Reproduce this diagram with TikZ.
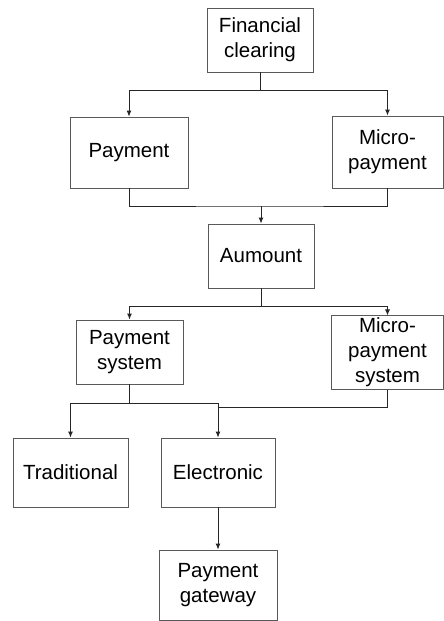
\documentclass[tikz,border=0pt]{standalone}
\usepackage{fontspec}
\setmainfont{Liberation Sans}
\usetikzlibrary{arrows,arrows.meta,shapes}
\tikzstyle{link} = [draw,black!85,line width=0.9pt]

\begin{document}
\begin{tikzpicture}
[x=1pt,y=-1pt,>={Latex[length=6pt,width=5pt]},
lineDecorateout/.style={->,link}, %
lineDecorate/.style={-,link},%
box/.style={shape=rectangle,draw=black!65,line width=0.9pt,fill=white,align=center,inner sep=2pt,font=\fontsize{20.5}{25}\selectfont}]

\useasboundingbox (0,0) rectangle (444,621);

%% nodes or vertices
\foreach \nodename/\x/\y/\w/\h/\txt in {
fin/260/40/106/64/{Financial\\clearing}, pay/129/152.5/118/71/{Payment}, micro/387.5/152/111/72/{Micro-\\payment},
amount/261/256/106/64/{Aumount}, paysys/129.5/352/107/64/{Payment\\system}, microsys/387.5/352.5/112/71/{Micro-\\payment\\system},
trad/70.5/472.5/115/69/{Traditional}, elec/218/472.5/114/69/{Electronic}, gate/218/585/118/70/{Payment\\gateway}}
{
\node (\nodename) at (\x,\y) [box,minimum width=\w pt,minimum height=\h pt] {\txt};
}

%% junctions
\coordinate (top) at (260,90);
\coordinate (mid) at (261,206);
\coordinate (sys) at (261,306);
\coordinate (low) at (129.5,403);
\coordinate (side) at (218,407);

%% edges or lines
\draw[lineDecorate] (fin.south) -- (top);
\draw[lineDecorateout] (top) -| (pay.north);
\draw[lineDecorateout] (top) -| (micro.north);

\draw[lineDecorate] (pay.south) |- (mid) -| (micro.south);
\draw[lineDecorateout] (mid) -- (amount.north);

\draw[lineDecorate] (amount.south) -- (sys);
\draw[lineDecorateout] (sys) -| (paysys.north);
\draw[lineDecorateout] (sys) -| (microsys.north);

\draw[lineDecorate] (paysys.south) -- (low);
\draw[lineDecorateout] (low) -| (trad.north);
\draw[lineDecorateout] (low) -| (elec.north);
\draw[lineDecorate] (microsys.south) |- (side);

\draw[lineDecorateout] (elec.south) -- (gate.north);

\end{tikzpicture}
\end{document}
